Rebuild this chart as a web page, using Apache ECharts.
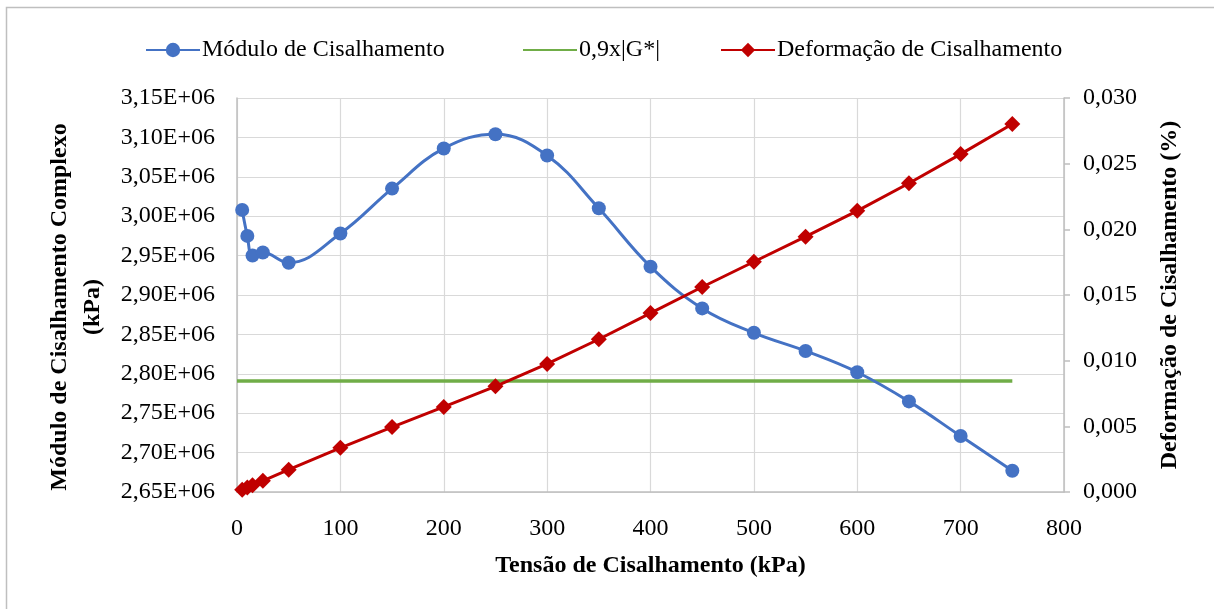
<!DOCTYPE html>
<html>
<head>
<meta charset="utf-8">
<script src="https://cdn.jsdelivr.net/npm/echarts@6/dist/echarts.min.js"></script>
<style>
  html, body { margin: 0; padding: 0; background: #fff; }
  #chart { width: 1214px; height: 609px; }
</style>
</head>
<body>
<div id="chart"></div>
<script>
// Tensão de cisalhamento aplicada (kPa)
const tensao = [5, 10, 15, 25, 50, 100, 150, 200, 250, 300, 350, 400, 450, 500, 550, 600, 650, 700, 750];
// Módulo de cisalhamento complexo |G*| (kPa)
const modulo = [3008000, 2975000, 2950000, 2954000, 2941000, 2978000, 3035000, 3086000, 3104000, 3077000,
                3010000, 2936000, 2883000, 2852000, 2829000, 2802000, 2765000, 2721000, 2677000];
// Deformação de cisalhamento (%)
const deformacao = [0.00017, 0.00034, 0.00051, 0.00085, 0.0017, 0.00336, 0.00494, 0.00648, 0.00805, 0.00975,
                    0.01163, 0.01362, 0.01561, 0.01753, 0.01944, 0.02141, 0.02351, 0.02573, 0.02802];
// Linha de referência 0,9x|G*|
const limiteX = [0, 750];
const limiteG = [2791000, 2791000];

const serieNomes = ['Módulo de Cisalhamento', '0,9x|G*|', 'Deformação de Cisalhamento'];

const FONT = '"Liberation Serif", "Times New Roman", serif';
const FS = 24;
const pares = (xs, ys) => xs.map((x, i) => [x, ys[i]]);

const chart = echarts.init(document.getElementById('chart'), null, { renderer: 'canvas' });

const legendBase = {
  top: 33,
  itemWidth: 54,
  itemHeight: 18,
  itemGap: 0,
  textStyle: { fontFamily: FONT, fontSize: FS, color: '#000', padding: [0, 0, 0, -3] }
};

chart.setOption({
  backgroundColor: '#fff',
  animation: false,
  textStyle: { fontFamily: FONT },
  graphic: [{
    type: 'rect',
    shape: { x: 6.5, y: 7.5, width: 1220, height: 620 },
    style: { fill: 'none', stroke: '#bfbfbf', lineWidth: 1.5 },
    silent: true
  }],
  legend: [
    Object.assign({}, legendBase, { left: 140, data: [serieNomes[0]] }),
    Object.assign({}, legendBase, { left: 517, data: [serieNomes[1]],
                                    itemStyle: { opacity: 0 } }),
    Object.assign({}, legendBase, { left: 715, data: [serieNomes[2]] })
  ],
  grid: { left: 237, right: 150, top: 98, bottom: 117, containLabel: false },
  xAxis: {
    type: 'value',
    min: 0, max: 800, interval: 100,
    name: 'Tensão de Cisalhamento (kPa)',
    nameLocation: 'middle',
    nameGap: 62,
    nameTextStyle: { fontFamily: FONT, fontSize: FS, fontWeight: 'bold', color: '#000' },
    axisLine: { show: true, lineStyle: { color: '#bfbfbf', width: 1.5 } },
    axisTick: { show: false },
    axisLabel: { margin: 25, fontFamily: FONT, fontSize: FS, color: '#000' },
    splitLine: { show: true, lineStyle: { color: '#d9d9d9', width: 1.2 } }
  },
  yAxis: [{
    type: 'value',
    position: 'left',
    min: 2650000, max: 3150000, interval: 50000,
    name: 'Módulo de Cisalhamento Complexo\n(kPa)',
    nameLocation: 'middle',
    nameRotate: 90,
    nameGap: 128,
    nameTextStyle: { fontFamily: FONT, fontSize: FS, fontWeight: 'bold', color: '#000',
                     lineHeight: 33, padding: [0, 24, 0, 0] },
    axisLine: { show: true, lineStyle: { color: '#bfbfbf', width: 1.5 } },
    axisTick: { show: false },
    axisLabel: {
      margin: 22, fontFamily: FONT, fontSize: FS, color: '#000',
      formatter: v => (v / 1e6).toFixed(2).replace('.', ',') + 'E+06'
    },
    splitLine: { show: true, lineStyle: { color: '#d9d9d9', width: 1.2 } }
  }, {
    type: 'value',
    position: 'right',
    min: 0, max: 0.03, interval: 0.005,
    name: 'Deformação de Cisalhamento (%)',
    nameLocation: 'middle',
    nameRotate: 90,
    nameGap: 94,
    nameTextStyle: { fontFamily: FONT, fontSize: FS, fontWeight: 'bold', color: '#000' },
    axisLine: { show: true, lineStyle: { color: '#bfbfbf', width: 1.5 } },
    axisTick: { show: true, length: 6, lineStyle: { color: '#bfbfbf', width: 1.5 } },
    axisLabel: {
      margin: 19, fontFamily: FONT, fontSize: FS, color: '#000',
      formatter: v => v.toFixed(3).replace('.', ',')
    },
    splitLine: { show: false }
  }],
  series: [{
    name: serieNomes[0],
    type: 'line',
    yAxisIndex: 0,
    data: pares(tensao, modulo),
    smooth: 0.4,
    symbol: 'circle',
    symbolSize: 14,
    lineStyle: { color: '#4472C4', width: 3 },
    itemStyle: { color: '#4472C4' },
    z: 3
  }, {
    name: serieNomes[1],
    type: 'line',
    yAxisIndex: 0,
    data: pares(limiteX, limiteG),
    symbol: 'none',
    lineStyle: { color: '#70AD47', width: 3.5 },
    itemStyle: { color: '#70AD47' },
    z: 2
  }, {
    name: serieNomes[2],
    type: 'line',
    yAxisIndex: 1,
    data: pares(tensao, deformacao),
    symbol: 'diamond',
    symbolSize: 16,
    lineStyle: { color: '#C00000', width: 3 },
    itemStyle: { color: '#C00000' },
    z: 4
  }]
});
</script>
</body>
</html>
